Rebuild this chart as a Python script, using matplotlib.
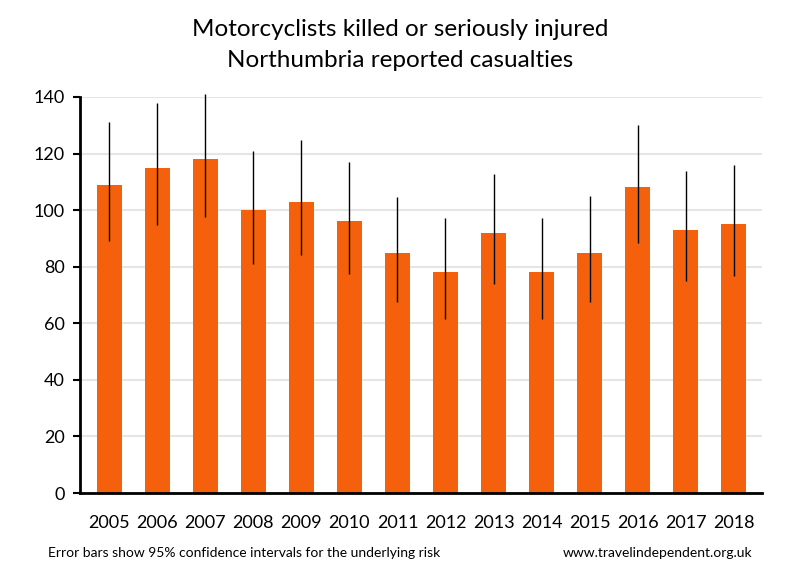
import numpy as np
import matplotlib.pyplot as plt

years = ['2005', '2006', '2007', '2008', '2009', '2010', '2011',
         '2012', '2013', '2014', '2015', '2016', '2017', '2018']
casualties = [109, 115, 118, 100, 103, 96, 85, 78, 92, 78, 85, 108, 93, 95]
ci_low = [89, 94.7, 97.6, 81, 84, 77.5, 67.5, 61.5, 74, 61.5, 67.5, 88.5, 74.8, 76.7]
ci_high = [131, 137.7, 141, 121, 124.7, 117, 104.8, 97.2, 112.6, 97.2, 105, 130, 113.8, 115.9]

plt.rcParams['font.family'] = ['Lato', 'DejaVu Sans']

fig = plt.figure(figsize=(8, 5.8), dpi=100)
ax = fig.add_axes([0.1, 0.15, 0.8525, 0.6828])

x = np.arange(len(years))
vals = np.array(casualties)
yerr = [vals - np.array(ci_low), np.array(ci_high) - vals]

ax.bar(x, vals, width=0.52, color='#f4600c', zorder=2)
ax.errorbar(x, vals, yerr=yerr, fmt='none', ecolor='black', elinewidth=1,
            capsize=0, zorder=3, clip_on=False)

ax.set_ylim(0, 140)
ax.set_xlim(-0.61, 13.59)
ax.set_yticks(range(0, 141, 20))
ax.yaxis.grid(True, color='#e6e6e6', linewidth=1.5, zorder=0)
ax.set_axisbelow(True)

ax.set_xticks(x)
ax.set_xticklabels(years)
ax.tick_params(axis='x', length=0, labelsize=13, pad=16)
ax.tick_params(axis='y', length=5, width=1.5, labelsize=13, pad=6)

for s in ['top', 'right']:
    ax.spines[s].set_visible(False)
for s in ['left', 'bottom']:
    ax.spines[s].set_linewidth(2)

fig.text(0.5, 0.95, 'Motorcyclists killed or seriously injured',
         ha='center', va='center', fontsize=17.5)
fig.text(0.5, 0.895, 'Northumbria reported casualties',
         ha='center', va='center', fontsize=17.5)

fig.text(0.06, 0.047, 'Error bars show 95% confidence intervals for the underlying risk',
         ha='left', va='center', fontsize=10)
fig.text(0.94, 0.047, 'www.travelindependent.org.uk',
         ha='right', va='center', fontsize=10)

fig.savefig('out.png', dpi=100)
